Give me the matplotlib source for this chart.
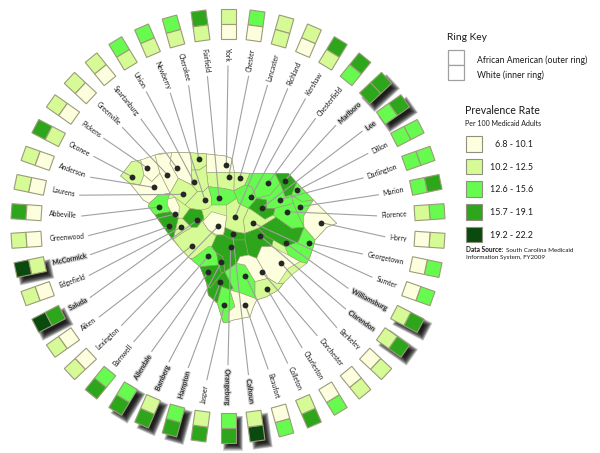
import numpy as np
import matplotlib
matplotlib.use("Agg")
import matplotlib.pyplot as plt
import matplotlib.patheffects as pe
from matplotlib.patches import Polygon, Rectangle
from matplotlib.textpath import TextPath
from matplotlib.font_manager import FontProperties

FONT = "Lato"

# clockwise from the top of the ring
counties = ["York", "Chester", "Lancaster", "Richland", "Kershaw", "Chesterfield", "Marlboro", "Lee",
            "Dillon", "Darlington", "Marion", "Florence", "Horry", "Georgetown", "Sumter", "Williamsburg",
            "Clarendon", "Berkeley", "Dorchester", "Charleston", "Colleton", "Beaufort", "Calhoun", "Orangeburg",
            "Jasper", "Hampton", "Bamberg", "Allendale", "Barnwell", "Lexington", "Aiken", "Saluda",
            "Edgefield", "McCormick", "Greenwood", "Abbeville", "Laurens", "Anderson", "Oconee", "Pickens",
            "Greenville", "Spartanburg", "Union", "Newberry", "Cherokee", "Fairfield"]

# rate class (0-4) per county, same order as counties
outer_class = [1, 2, 1, 1, 3, 3, 3, 3,
               2, 2, 3, 2, 1, 2, 2, 3,
               3, 1, 1, 2, 3, 2, 4, 3,
               3, 3, 3, 3, 3, 1, 1, 4,
               1, 4, 1, 3, 1, 1, 3, 1,
               1, 1, 2, 2, 2, 3]
inner_class = [0, 0, 1, 0, 1, 2, 3, 2,
               2, 2, 2, 1, 0, 0, 0, 1,
               1, 0, 0, 0, 1, 0, 1, 2,
               1, 2, 1, 2, 2, 0, 0, 3,
               0, 1, 0, 0, 0, 0, 1, 0,
               0, 0, 1, 1, 1, 1]
highlighted = ["Marlboro", "Lee", "Williamsburg", "Clarendon", "Calhoun", "Orangeburg", "Hampton",
               "Bamberg", "Allendale", "Saluda", "McCormick"]

class_colors = ["#FDFEDE", "#D6FB96", "#66FB4E", "#2DA61C", "#0B4A0F"]
legend_labels = ["6.8 - 10.1", "10.2 - 12.5", "12.6 - 15.6", "15.7 - 19.1", "19.2 - 22.2"]

# map geography, measured on a 3x crop whose corner is at pixel (110, 140)
map_class = {
    "Oconee": 1, "Pickens": 0, "Greenville": 0, "Spartanburg": 0, "Cherokee": 1, "York": 0, "Chester": 1,
    "Lancaster": 1, "Union": 1, "Laurens": 1, "Anderson": 0, "Abbeville": 2, "Greenwood": 0, "McCormick": 3,
    "Edgefield": 1, "Saluda": 3, "Newberry": 1, "Fairfield": 2, "Kershaw": 2, "Chesterfield": 2, "Marlboro": 3,
    "Dillon": 2, "Darlington": 2, "Marion": 2, "Florence": 2, "Lee": 3, "Horry": 0, "Sumter": 1,
    "Georgetown": 2, "Williamsburg": 3, "Clarendon": 3, "Calhoun": 3, "Richland": 1, "Lexington": 0, "Aiken": 1,
    "Barnwell": 2, "Orangeburg": 3, "Bamberg": 3, "Allendale": 3, "Hampton": 3, "Jasper": 2, "Colleton": 2,
    "Beaufort": 0, "Dorchester": 0, "Berkeley": 0, "Charleston": 1,
}
silhouette = [(32,108),(65,65),(95,60),(150,40),(215,37),(290,42),(345,48),(365,55),(373,98),(420,100),(535,100),
              (560,128),(610,180),(680,250),(650,262),(615,300),(610,320),(600,350),(590,370),(570,365),(540,395),
              (520,430),(505,450),(470,470),(440,480),(430,500),(420,530),(370,540),(355,545),(340,548),(322,490),
              (295,465),(290,430),(270,380),(240,355),(215,330),(185,295),(160,260),(135,225),(115,200),(118,190),
              (100,180),(60,130)]
outlines = {
    "Oconee": [(32,108),(65,65),(92,60),(102,105),(90,135),(60,130)],
    "Pickens": [(92,60),(135,45),(150,100),(125,125),(102,105)],
    "Greenville": [(135,45),(185,38),(180,70),(205,115),(180,160),(150,100)],
    "Spartanburg": [(185,38),(242,38),(245,90),(245,135),(205,115),(180,70)],
    "Cherokee": [(242,38),(290,42),(290,75),(268,90),(245,90)],
    "York": [(290,42),(345,48),(365,55),(373,98),(290,98),(290,75)],
    "Chester": [(290,98),(373,98),(372,152),(340,145),(295,140)],
    "Lancaster": [(373,98),(420,100),(405,135),(372,152)],
    "Union": [(245,90),(268,90),(290,75),(290,98),(295,140),(280,155),(262,155),(245,135)],
    "Laurens": [(205,115),(245,135),(262,155),(225,195),(180,160)],
    "Anderson": [(60,130),(90,135),(102,105),(125,125),(150,100),(180,160),(145,165),(118,190),(100,180)],
    "Abbeville": [(145,165),(180,160),(172,185),(182,215),(150,220),(135,225),(115,200),(118,190)],
    "Greenwood": [(172,178),(195,172),(208,200),(205,235),(182,215),(172,195)],
    "McCormick": [(135,225),(150,220),(182,215),(205,235),(190,298),(185,295),(160,260)],
    "Edgefield": [(205,235),(218,235),(245,262),(215,280),(190,298)],
    "Saluda": [(240,205),(275,210),(282,235),(262,262),(245,262),(218,235)],
    "Newberry": [(225,195),(262,155),(280,155),(295,140),(305,175),(305,195),(295,205),(275,210),(240,205)],
    "Fairfield": [(295,140),(340,145),(372,152),(380,175),(350,195),(305,195),(305,175)],
    "Kershaw": [(372,152),(405,135),(425,140),(440,175),(415,205),(385,190),(380,175)],
    "Chesterfield": [(420,100),(495,100),(510,130),(480,165),(440,175),(425,140),(405,135)],
    "Marlboro": [(495,100),(535,100),(560,128),(545,165),(525,170),(510,130)],
    "Dillon": [(560,128),(610,180),(575,185),(545,165)],
    "Darlington": [(480,165),(510,130),(525,170),(545,165),(550,190),(495,205),(470,205),(470,180),(440,175)],
    "Marion": [(545,165),(575,185),(610,180),(580,230),(582,262),(560,215),(550,190)],
    "Florence": [(495,205),(550,190),(560,215),(582,262),(545,265),(498,232),(490,225)],
    "Lee": [(440,175),(470,180),(470,205),(495,205),(490,225),(465,238),(425,210),(415,205)],
    "Horry": [(610,180),(680,250),(650,262),(615,300),(582,262),(580,230)],
    "Sumter": [(415,205),(425,210),(465,238),(490,225),(498,232),(445,265),(405,280),(400,240)],
    "Georgetown": [(582,262),(615,300),(610,320),(600,350),(590,370),(570,365),(535,345),(525,320),(565,305)],
    "Williamsburg": [(498,232),(545,265),(582,262),(565,305),(525,320),(490,300),(470,290),(445,265)],
    "Clarendon": [(405,280),(445,265),(470,290),(490,300),(485,320),(455,320),(440,355),(415,345),(405,300)],
    "Calhoun": [(345,262),(375,275),(405,280),(405,300),(370,300),(340,290)],
    "Richland": [(350,195),(380,175),(385,190),(415,205),(400,240),(405,280),(375,275),(345,262),(350,230)],
    "Lexington": [(278,245),(305,215),(350,228),(345,262),(340,285),(320,285),(295,270)],
    "Aiken": [(190,298),(215,280),(245,262),(262,262),(282,235),(278,245),(295,270),(320,290),(305,320),(250,355),(240,355),(215,330)],
    "Barnwell": [(250,355),(295,320),(305,320),(320,340),(325,375),(270,380),(240,355)],
    "Orangeburg": [(340,285),(370,300),(405,300),(415,345),(390,350),(380,370),(345,395),(338,350),(320,340),(305,320),(320,285)],
    "Bamberg": [(320,340),(338,350),(345,395),(335,400),(325,375)],
    "Allendale": [(270,380),(325,375),(335,400),(300,445),(290,430)],
    "Hampton": [(295,465),(290,430),(300,445),(335,400),(345,395),(370,445),(360,450),(335,440),(322,490)],
    "Jasper": [(322,490),(335,440),(360,450),(375,500),(355,515),(360,548),(340,548)],
    "Colleton": [(345,395),(380,370),(405,375),(435,415),(435,475),(395,460),(360,450),(370,445)],
    "Beaufort": [(360,450),(395,460),(435,475),(440,480),(430,500),(420,530),(370,540),(355,545),(355,515),(375,500)],
    "Dorchester": [(390,350),(415,345),(440,355),(475,415),(435,425),(405,375),(380,370)],
    "Berkeley": [(440,355),(455,320),(485,320),(535,345),(570,365),(540,395),(520,430),(500,430),(475,415)],
    "Charleston": [(435,425),(475,415),(500,430),(520,430),(505,450),(470,470),(440,480),(435,475)],
}
coast_strip = [(505,430),(535,385),(570,365),(590,370),(545,405),(520,430)]
dots = {
    "Oconee": (66,110), "Pickens": (112,84), "Greenville": (172,104), "Spartanburg": (201,84), "Cherokee": (266,58),
    "York": (349,75), "Chester": (356,110), "Lancaster": (389,114), "Union": (252,126), "Laurens": (218,163),
    "Anderson": (131,142), "Newberry": (285,181), "Fairfield": (327,173), "Kershaw": (422,172),
    "Chesterfield": (475,129), "Marlboro": (524,122), "Dillon": (562,151), "Darlington": (509,179),
    "Marion": (571,200), "Florence": (531,215), "Lee": (455,204), "Horry": (634,248), "Richland": (375,232),
    "Sumter": (428,248), "Georgetown": (597,308), "Williamsburg": (528,310), "Clarendon": (450,287),
    "Berkeley": (513,368), "Dorchester": (456,396), "Charleston": (471,446), "Colleton": (406,407),
    "Beaufort": (406,494), "Calhoun": (368,283), "Orangeburg": (362,321), "Jasper": (343,495), "Hampton": (331,427),
    "Bamberg": (334,366), "Allendale": (295,396), "Barnwell": (294,349), "Lexington": (324,259), "Aiken": (246,317),
    "Saluda": (261,241), "Edgefield": (213,262), "McCormick": (178,259), "Greenwood": (196,222), "Abbeville": (148,201),
}


def crop_to_px(pts):
    return [(110 + x / 3, 140 + y / 3) for x, y in pts]


fig = plt.figure(figsize=(6, 4.53), dpi=100)
ax = fig.add_axes([0, 0, 1, 1])
ax.set_xlim(0, 600)
ax.set_ylim(453, 0)
ax.axis("off")

# the map
edge = "#9A9C78"
ax.add_patch(Polygon(crop_to_px(silhouette), closed=True, fc=class_colors[1], ec=edge, lw=0.5, zorder=1))
for name in outlines:
    ax.add_patch(Polygon(crop_to_px(outlines[name]), closed=True, fc=class_colors[map_class[name]], ec=edge, lw=0.4, zorder=2))
ax.add_patch(Polygon(crop_to_px(coast_strip), closed=True, fc=class_colors[1], ec=edge, lw=0.4, zorder=2))

# the ring
cx, cy = 228, 226
r_out, r_mid, r_in = 217, 202, 187
half_w = 7.5
label_r = 179
label_size = 4.9
fp = FontProperties(family=FONT, size=label_size)


def ring_cell(theta, r0, r1, grow=0.0):
    ux, uy = np.sin(theta), -np.cos(theta)
    tx, ty = np.cos(theta), np.sin(theta)
    w = half_w + grow
    pts = []
    for r, s in [(r0 + grow, -w), (r0 + grow, w), (r1 - grow, w), (r1 - grow, -w)]:
        pts.append((cx + r * ux + s * tx, cy + r * uy + s * ty))
    return pts


for i, name in enumerate(counties):
    deg = i * 360 / len(counties)
    theta = np.radians(deg)
    if i == 0:
        rot = -90
    elif deg <= 180:
        rot = 90 - deg
    else:
        rot = 270 - deg

    shadow = name in highlighted
    # px per point at this dpi
    text_len = TextPath((0, 0), name, prop=fp).get_extents().width * 100 / 72
    r_text = label_r - text_len / 2
    r_line = label_r - text_len - 5
    ux, uy = np.sin(theta), -np.cos(theta)

    dx, dy = crop_to_px([dots[name]])[0]
    ax.plot([dx, cx + r_line * ux], [dy, cy + r_line * uy], color="#A0A0A0", lw=0.8, zorder=3)
    ax.plot([dx], [dy], "o", color="#262626", ms=4.2, mew=0, zorder=5)

    t = ax.text(cx + r_text * ux, cy + r_text * uy, name, rotation=rot, rotation_mode="anchor",
                ha="center", va="center", fontsize=label_size, family=FONT, color="#1A1A1A", zorder=6)
    if shadow:
        t.set_path_effects([pe.withStroke(linewidth=1.8, foreground="#A8A8A8", alpha=0.55)])
        # soft drop shadow built from stacked, shrinking copies
        for g in np.linspace(2.5, -3.5, 12):
            pts = ring_cell(theta, r_out, r_in, g)
            ax.add_patch(Polygon([(x + 5, y + 5) for x, y in pts], closed=True, fc="black", ec="none", alpha=0.16, zorder=6))

    ax.add_patch(Polygon(ring_cell(theta, r_out, r_mid), closed=True, fc=class_colors[outer_class[i]], ec=edge, lw=0.8, zorder=7))
    ax.add_patch(Polygon(ring_cell(theta, r_mid, r_in), closed=True, fc=class_colors[inner_class[i]], ec=edge, lw=0.8, zorder=7))

# ring key
ax.text(447, 38, "Ring Key", fontsize=7.4, family=FONT, color="#1A1A1A", va="center")
ax.add_patch(Rectangle((448, 50), 16, 15, fc="white", ec="#A0A0A0", lw=0.9))
ax.add_patch(Rectangle((448, 65), 16, 15, fc="white", ec="#A0A0A0", lw=0.9))
ax.text(477, 60, "African American (outer ring)", fontsize=6.2, family=FONT, color="#1A1A1A", va="center")
ax.text(477, 75, "White (inner ring)", fontsize=6.2, family=FONT, color="#1A1A1A", va="center")

# prevalence legend
ax.text(465, 111, "Prevalence Rate", fontsize=7.6, family=FONT, color="#1A1A1A", va="center")
ax.text(465, 123, "Per 100 Medicaid Adults", fontsize=5.0, family=FONT, color="#1A1A1A", va="center")
for k in range(len(legend_labels)):
    y0 = 136 + k * 22.7
    ax.add_patch(Rectangle((466, y0), 15.5, 15.5, fc=class_colors[k], ec="#909080", lw=0.8))
    ax.text(533, y0 + 8.5, legend_labels[k], fontsize=6.4, family=FONT, color="#1A1A1A", ha="right", va="center")
ax.text(466, 250, "Data Source:", fontsize=4.7, family=FONT, weight="bold", color="#1A1A1A", va="center")
ax.text(506, 250, "South Carolina Medicaid", fontsize=4.5, family=FONT, color="#1A1A1A", va="center")
ax.text(466, 258, "Information System, FY2009", fontsize=4.5, family=FONT, color="#1A1A1A", va="center")

fig.savefig("out.png", dpi=100)
